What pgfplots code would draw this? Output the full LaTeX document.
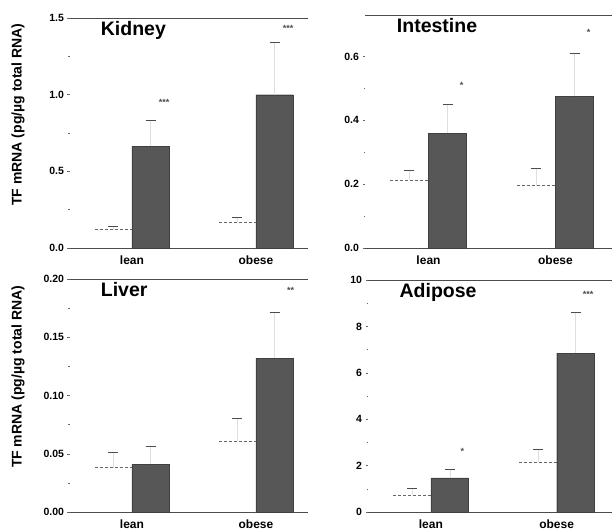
\documentclass[border=0pt]{standalone}
\usepackage{fontspec}
\setmainfont{Liberation Sans}
\usepackage{pgfplots}
\pgfplotsset{compat=1.18}
\usetikzlibrary{calc}
\begin{document}
\begin{tikzpicture}
\pgfplotsset{
  panel/.style={
    scale only axis, anchor=south west,
    xmin=0.5, xmax=2.42, ymin=0,
    xtick={1,2}, xticklabels={lean,obese},
    x tick label style={font=\bfseries\fontsize{12}{12}\selectfont, yshift=-2pt},
    major x tick style={draw=none},
    separate axis lines,
    y axis line style={draw=none},
    x axis line style={black!70, line width=0.5pt},
    tick align=outside, ytick pos=left, xtick pos=bottom,
    y tick label style={font=\bfseries\fontsize{10.5}{10.5}\selectfont},
    /pgf/number format/assume math mode=true,
    /pgf/number format/fixed, /pgf/number format/fixed zerofill,
    minor y tick num=1,
    major tick length=2.5pt, minor tick length=1.5pt,
    every tick/.style={black!60, line width=0.4pt},
    every axis y label/.style={at={($(rel axis cs:0,0.58)+(-52pt,0)$)}, rotate=90, anchor=center,
      font=\bfseries\fontsize{14}{14}\selectfont},
    title style={at={(rel axis cs:0.115,0.975)}, anchor=north west, font=\bfseries\fontsize{19.5}{19.5}\selectfont},
    clip=false,
  },
  wbar/.style={ybar, bar width=0.3, bar shift=0pt, fill=white, draw=none,
    error bars/.cd, y dir=plus, y explicit,
    error bar style={black!12, line width=0.3pt},
    error mark options={rotate=90, mark size=5pt, black!70, line width=0.6pt}},
  dbar/.style={ybar, bar width=0.3, bar shift=0pt, fill=black!66, draw=black!75, line width=0.3pt,
    error bars/.cd, y dir=plus, y explicit,
    error bar style={black!12, line width=0.3pt},
    error mark options={rotate=90, mark size=5pt, black!70, line width=0.6pt}},
  wtop/.style={black!60, line width=0.6pt, densely dashed, unbounded coords=jump, forget plot},
  stars/.style={draw=none, mark=none, nodes near coords, point meta=explicit symbolic,
    nodes near coords style={font=\bfseries\fontsize{9}{9}\selectfont, anchor=center, black!70}},
}
\useasboundingbox (0,0) rectangle (616pt,532pt);

% Kidney
\begin{axis}[panel, at={(70pt,284pt)}, width=238pt, height=230pt,
  ymax=1.5, ytick={0,0.5,1,1.5}, /pgf/number format/precision=1,
  title={Kidney}, ylabel={TF mRNA (pg/µg total RNA)}]
\addplot[wbar] coordinates {(0.85,0.12) +- (0,0.02) (1.85,0.17) +- (0,0.03)};
\addplot[wtop] coordinates {(0.7,0.12) (1,0.12) (1,nan) (1.7,0.17) (2,0.17)};
\addplot[dbar] coordinates {(1.15,0.665) +- (0,0.165) (2.15,1.0) +- (0,0.34)};
\addplot[stars] coordinates {(1.26,0.95)[***] (2.26,1.43)[***]};
\end{axis}

% Intestine
\begin{axis}[panel, at={(365pt,284pt)}, width=247pt, height=233pt,
  ymax=0.73, ytick={0,0.2,0.4,0.6}, /pgf/number format/precision=1,
  xmax=2.445, title={Intestine}]
\addplot[wbar] coordinates {(0.85,0.213) +- (0,0.03) (1.85,0.195) +- (0,0.055)};
\addplot[wtop] coordinates {(0.7,0.213) (1,0.213) (1,nan) (1.7,0.195) (2,0.195)};
\addplot[dbar] coordinates {(1.15,0.36) +- (0,0.09) (2.15,0.475) +- (0,0.135)};
\addplot[stars] coordinates {(1.26,0.51)[*] (2.26,0.675)[*]};
\end{axis}

% Liver
\begin{axis}[panel, at={(70pt,20pt)}, width=238pt, height=233pt,
  ymax=0.2, ytick={0,0.05,0.1,0.15,0.2}, /pgf/number format/precision=2,
  title={Liver}, ylabel={TF mRNA (pg/µg total RNA)}]
\addplot[wbar] coordinates {(0.85,0.038) +- (0,0.013) (1.85,0.061) +- (0,0.019)};
\addplot[wtop] coordinates {(0.7,0.038) (1,0.038) (1,nan) (1.7,0.061) (2,0.061)};
\addplot[dbar] coordinates {(1.15,0.041) +- (0,0.015) (2.15,0.132) +- (0,0.039)};
\addplot[stars] coordinates {(2.28,0.19)[**]};
\end{axis}

% Adipose
\begin{axis}[panel, at={(368pt,20pt)}, width=244pt, height=232pt,
  ymax=10, ytick={0,2,4,6,8,10}, /pgf/number format/precision=0,
  xmax=2.44, title={Adipose}]
\addplot[wbar] coordinates {(0.85,0.73) +- (0,0.27) (1.85,2.15) +- (0,0.55)};
\addplot[wtop] coordinates {(0.7,0.73) (1,0.73) (1,nan) (1.7,2.15) (2,2.15)};
\addplot[dbar] coordinates {(1.15,1.47) +- (0,0.38) (2.15,6.85) +- (0,1.75)};
\addplot[stars] coordinates {(1.25,2.6)[*] (2.25,9.4)[***]};
\end{axis}
\end{tikzpicture}
\end{document}
